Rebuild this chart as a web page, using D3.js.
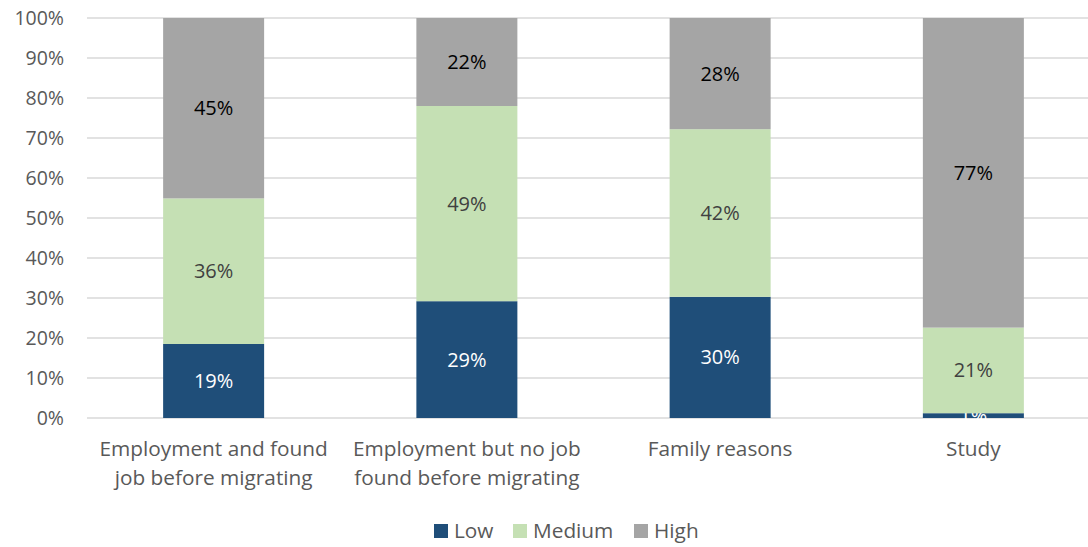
<!DOCTYPE html>
<html><head><meta charset="utf-8">
<script src="https://cdn.jsdelivr.net/npm/d3@7"></script>
<style>body{margin:0;background:#fff;}svg{display:block;font-family:"Open Sans",sans-serif;}</style>
</head><body>
<svg id="c" width="1088" height="547"></svg>
<script>
const categories = [["Employment and found","job before migrating"],["Employment but no job","found before migrating"],["Family reasons"],["Study"]];
const seriesNames = ["Low","Medium","High"];
const low = [18.5, 29.2, 30.3, 1.2];
const medium = [36.4, 48.8, 41.9, 21.4];
const high = [45.1, 22.0, 27.8, 77.4];
const yTicks = [0,10,20,30,40,50,60,70,80,90,100];
const colors = ["#1F4E79","#C5E0B4","#A5A5A5"];
const labelColors = ["#ffffff","#404040","#000000"];

const svg = d3.select("#c");
const x = d3.scaleBand().domain(d3.range(categories.length)).range([87, 1100]).paddingInner(0.6).paddingOuter(0.3);
const y = d3.scaleLinear().domain([0,100]).range([418, 18]);

svg.append("g").selectAll("line").data(yTicks).join("line")
  .attr("x1", 87).attr("x2", 1100)
  .attr("y1", d => y(d)).attr("y2", d => y(d))
  .attr("stroke", "#D9D9D9").attr("stroke-width", 1.3);

svg.append("g").selectAll("text").data(yTicks).join("text")
  .attr("x", 64).attr("y", d => y(d)).attr("dy", "0.35em")
  .attr("text-anchor", "end").attr("fill", "#595959").attr("font-size", 19.5)
  .text(d => d + "%");

const data = categories.map((c,i) => ({i, Low: low[i], Medium: medium[i], High: high[i]}));
const stack = d3.stack().keys(seriesNames)(data);

const bw = 101;
stack.forEach((s, si) => {
  const g = svg.append("g");
  g.selectAll("rect").data(s).join("rect")
    .attr("x", (d,i) => x(i) + x.bandwidth()/2 - bw/2)
    .attr("width", bw)
    .attr("y", d => y(d[1]))
    .attr("height", d => y(d[0]) - y(d[1]))
    .attr("fill", colors[si]);
  g.selectAll("text").data(s).join("text")
    .attr("x", (d,i) => x(i) + x.bandwidth()/2)
    .attr("y", d => (y(d[0]) + y(d[1]))/2)
    .attr("dy", "0.35em").attr("text-anchor", "middle")
    .attr("fill", labelColors[si]).attr("font-size", 20)
    .text(d => Math.round(d[1]-d[0]) + "%");
});

const cl = svg.append("g");
categories.forEach((lines, i) => {
  lines.forEach((t, li) => {
    cl.append("text").attr("x", x(i) + x.bandwidth()/2).attr("y", 449 + li*29)
      .attr("dy", "0.35em").attr("text-anchor", "middle")
      .attr("fill", "#595959").attr("font-size", 20.8).text(t);
  });
});

const legX = [434, 513, 634];
const lg = svg.append("g");
seriesNames.forEach((n, i) => {
  lg.append("rect").attr("x", legX[i]).attr("y", 524).attr("width", 14).attr("height", 14).attr("fill", colors[i]);
  lg.append("text").attr("x", legX[i] + 20).attr("y", 531).attr("dy", "0.35em")
    .attr("fill", "#595959").attr("font-size", 20.8).text(n);
});
</script>
</body></html>
